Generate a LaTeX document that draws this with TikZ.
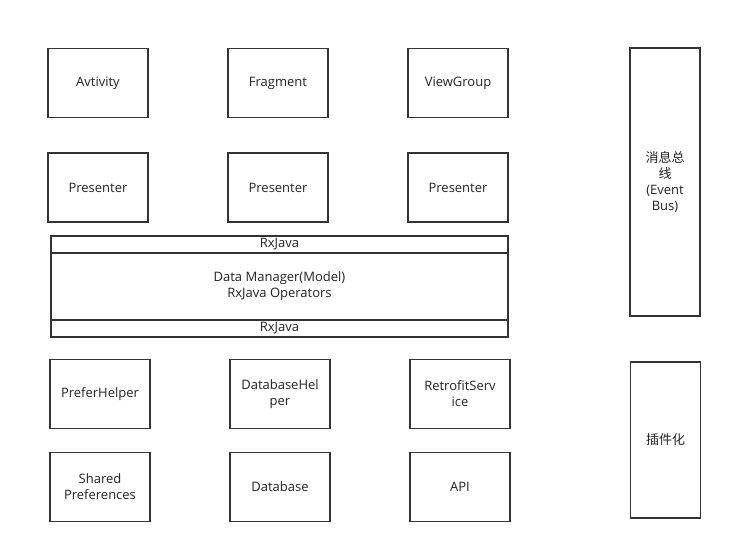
\documentclass[tikz,border=0pt]{standalone}
\usepackage{fontspec}
\setmainfont{Open Sans}
\newfontfamily\cjk{Noto Sans CJK SC}
\usepackage{xcolor}
\usepackage{tikz}
\usetikzlibrary{positioning}

\definecolor{edgegray}{HTML}{333333}
\definecolor{textgray}{HTML}{222222}

\begin{document}
\begin{tikzpicture}[
    x=1pt, y=-1pt,
    layer/.style={draw=edgegray, line width=1.8pt, align=center, inner sep=0pt,
        minimum width=100pt, minimum height=69pt, font=\fontsize{13}{16}\selectfont,
        text=textgray},
    bar/.style={layer, line width=1.5pt, minimum width=457pt},
    side/.style={layer, minimum width=70pt}
]
\useasboundingbox (0,0) rectangle (733,554);
% views
\node[layer] (activity) at (98,83) {Avtivity};
\node[layer] (fragment) at (278,83) {Fragment};
\node[layer] (viewgroup) at (458,83) {ViewGroup};
% presenters
\node[layer] (presenterA) at (98,187.5) {Presenter};
\node[layer] (presenterB) at (278,187.5) {Presenter};
\node[layer] (presenterC) at (458,187.5) {Presenter};
% data layer
\node[bar, minimum height=17pt] (rxtop) at (279.5,244.5) {RxJava};
\node[bar, minimum height=67pt] (manager) at (279.5,286.5) {Data Manager(Model)\\RxJava Operators};
\node[bar, minimum height=17pt] (rxbottom) at (279.5,328.5) {RxJava};
% helpers
\node[layer] (prefhelper) at (100,394) {PreferHelper};
\node[layer] (dbhelper) at (280,394) {DatabaseHel\\per};
\node[layer] (retrofit) at (460,394) {RetrofitServ\\ice};
% sources
\node[layer] (prefs) at (100,487) {Shared\\Preferences};
\node[layer] (database) at (280,487) {Database};
\node[layer] (api) at (460,487) {API};
% right column
\node[side, minimum height=268pt] (eventbus) at (665,182) {{\cjk 消息总}\\{\cjk 线}\\(Event\\Bus)};
\node[side, minimum height=156pt] (plugin) at (665.5,440) {\cjk 插件化};
\end{tikzpicture}
\end{document}
